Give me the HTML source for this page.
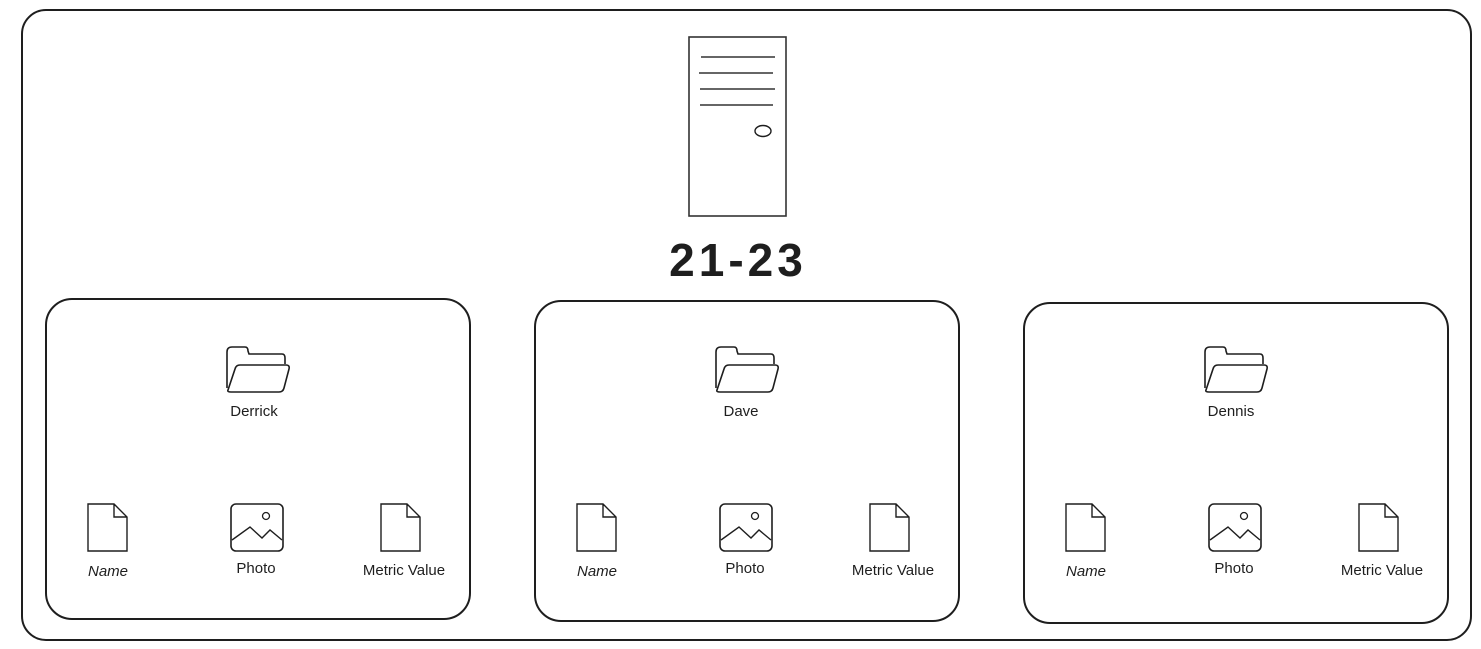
<!DOCTYPE html>
<html><head><meta charset="utf-8"><style>
html,body{margin:0;padding:0;background:#fff;}
svg{display:block;}
text{font-family:"Liberation Sans",sans-serif;fill:#1e1e1e;}
</style></head><body>
<svg width="1481" height="649" viewBox="0 0 1481 649" xmlns="http://www.w3.org/2000/svg">
<rect x="22" y="10" width="1449" height="630" rx="24" fill="none" stroke="#1e1e1e" stroke-width="2"/>
<rect x="689" y="37" width="97" height="179" fill="none" stroke="#333" stroke-width="1.6"/>
<g stroke="#333" stroke-width="1.6">
<line x1="701" y1="57" x2="775" y2="57"/>
<line x1="699" y1="73" x2="773" y2="73"/>
<line x1="700" y1="89" x2="775" y2="89"/>
<line x1="700" y1="105" x2="773" y2="105"/>
</g>
<ellipse cx="763" cy="131" rx="8" ry="5.5" fill="none" stroke="#1e1e1e" stroke-width="1.4"/>
<text x="738" y="276" font-size="46" font-weight="bold" letter-spacing="4" text-anchor="middle">21-23</text>
<rect x="46" y="299" width="424" height="320" rx="26" fill="none" stroke="#1e1e1e" stroke-width="2"/>
<rect x="535" y="301" width="424" height="320" rx="26" fill="none" stroke="#1e1e1e" stroke-width="2"/>
<rect x="1024" y="303" width="424" height="320" rx="26" fill="none" stroke="#1e1e1e" stroke-width="2"/>
<svg x="0" y="0" overflow="visible"><g>
  <path d="M227 388 L227 352 Q227 347 232 347 L245 347 Q248 347 248 351 L249 354 L282 354 Q285 354 285 358 L285 364" fill="none" stroke="#1e1e1e" stroke-width="1.6"/>
  <path d="M228 390 L235 369 Q236 365 240 365 L286 365 Q290 365 289 369 L284 388 Q283 392 279 392 L231 392 Q227 392 228 390 Z" fill="none" stroke="#1e1e1e" stroke-width="1.6"/>
  <text x="254" y="416" font-size="15" text-anchor="middle">Derrick</text>
  <path d="M88 504 L114 504 L127 517 L127 551 L88 551 Z M114 504 L114 517 L127 517" fill="none" stroke="#1e1e1e" stroke-width="1.4"/>
  <text x="108" y="576" font-size="15" text-anchor="middle" font-style="italic">Name</text>
  <rect x="231" y="504" width="52" height="47" rx="5" fill="none" stroke="#1e1e1e" stroke-width="1.6"/>
  <circle cx="266" cy="516" r="3.5" fill="none" stroke="#1e1e1e" stroke-width="1.3"/>
  <path d="M232 540 L250 527 L262 538 L270 530 L282 540" fill="none" stroke="#1e1e1e" stroke-width="1.4"/>
  <text x="256" y="573" font-size="15" text-anchor="middle">Photo</text>
  <path d="M381 504 L407 504 L420 517 L420 551 L381 551 Z M407 504 L407 517 L420 517" fill="none" stroke="#1e1e1e" stroke-width="1.4"/>
  <text x="404" y="575" font-size="15" text-anchor="middle">Metric Value</text>
</g></svg>
<svg x="489" y="0" overflow="visible"><g>
  <path d="M227 388 L227 352 Q227 347 232 347 L245 347 Q248 347 248 351 L249 354 L282 354 Q285 354 285 358 L285 364" fill="none" stroke="#1e1e1e" stroke-width="1.6"/>
  <path d="M228 390 L235 369 Q236 365 240 365 L286 365 Q290 365 289 369 L284 388 Q283 392 279 392 L231 392 Q227 392 228 390 Z" fill="none" stroke="#1e1e1e" stroke-width="1.6"/>
  <text x="252" y="416" font-size="15" text-anchor="middle">Dave</text>
  <path d="M88 504 L114 504 L127 517 L127 551 L88 551 Z M114 504 L114 517 L127 517" fill="none" stroke="#1e1e1e" stroke-width="1.4"/>
  <text x="108" y="576" font-size="15" text-anchor="middle" font-style="italic">Name</text>
  <rect x="231" y="504" width="52" height="47" rx="5" fill="none" stroke="#1e1e1e" stroke-width="1.6"/>
  <circle cx="266" cy="516" r="3.5" fill="none" stroke="#1e1e1e" stroke-width="1.3"/>
  <path d="M232 540 L250 527 L262 538 L270 530 L282 540" fill="none" stroke="#1e1e1e" stroke-width="1.4"/>
  <text x="256" y="573" font-size="15" text-anchor="middle">Photo</text>
  <path d="M381 504 L407 504 L420 517 L420 551 L381 551 Z M407 504 L407 517 L420 517" fill="none" stroke="#1e1e1e" stroke-width="1.4"/>
  <text x="404" y="575" font-size="15" text-anchor="middle">Metric Value</text>
</g></svg>
<svg x="978" y="0" overflow="visible"><g>
  <path d="M227 388 L227 352 Q227 347 232 347 L245 347 Q248 347 248 351 L249 354 L282 354 Q285 354 285 358 L285 364" fill="none" stroke="#1e1e1e" stroke-width="1.6"/>
  <path d="M228 390 L235 369 Q236 365 240 365 L286 365 Q290 365 289 369 L284 388 Q283 392 279 392 L231 392 Q227 392 228 390 Z" fill="none" stroke="#1e1e1e" stroke-width="1.6"/>
  <text x="253" y="416" font-size="15" text-anchor="middle">Dennis</text>
  <path d="M88 504 L114 504 L127 517 L127 551 L88 551 Z M114 504 L114 517 L127 517" fill="none" stroke="#1e1e1e" stroke-width="1.4"/>
  <text x="108" y="576" font-size="15" text-anchor="middle" font-style="italic">Name</text>
  <rect x="231" y="504" width="52" height="47" rx="5" fill="none" stroke="#1e1e1e" stroke-width="1.6"/>
  <circle cx="266" cy="516" r="3.5" fill="none" stroke="#1e1e1e" stroke-width="1.3"/>
  <path d="M232 540 L250 527 L262 538 L270 530 L282 540" fill="none" stroke="#1e1e1e" stroke-width="1.4"/>
  <text x="256" y="573" font-size="15" text-anchor="middle">Photo</text>
  <path d="M381 504 L407 504 L420 517 L420 551 L381 551 Z M407 504 L407 517 L420 517" fill="none" stroke="#1e1e1e" stroke-width="1.4"/>
  <text x="404" y="575" font-size="15" text-anchor="middle">Metric Value</text>
</g></svg>
</svg>
</body></html>
